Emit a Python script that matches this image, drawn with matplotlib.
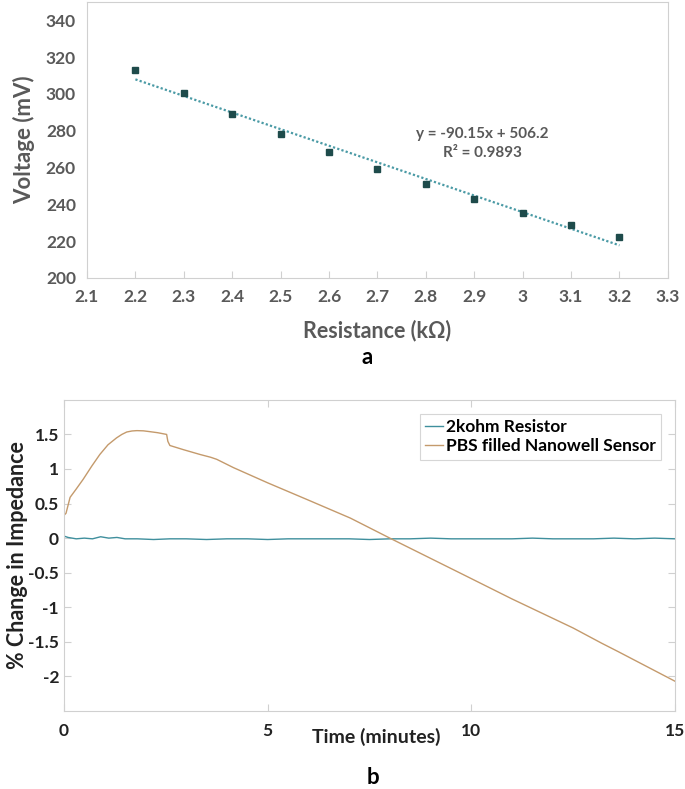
import matplotlib
matplotlib.use("Agg")
import matplotlib.pyplot as plt
import numpy as np

plt.rcParams["font.family"] = ["Lato", "DejaVu Sans"]
plt.rcParams["font.weight"] = "bold"
plt.rcParams["axes.labelweight"] = "bold"

# panel a: voltage vs resistance
resistance = [2.2, 2.3, 2.4, 2.5, 2.6, 2.7, 2.8, 2.9, 3.0, 3.1, 3.2]
voltage = [313.2, 300.6, 288.8, 278.3, 268.4, 259.4, 251.0, 242.9, 235.4, 228.6, 222.0]
fit_slope = -90.15
fit_icpt = 506.2
fit_r2 = 0.9893

# panel b: impedance change over time
t_sensor = [0.0, 0.05, 0.15, 0.3, 0.47, 0.68, 0.88, 1.08, 1.29, 1.42, 1.54, 1.67,
            1.79, 1.95, 2.11, 2.3, 2.52, 2.55, 2.6, 2.93, 3.34, 3.6, 3.75, 4.16,
            5.0, 6.0, 7.03, 8.0, 9.81, 11.0, 12.5, 13.2, 13.6, 15.0]
v_sensor = [0.33, 0.36, 0.59, 0.71, 0.85, 1.04, 1.21, 1.35, 1.45, 1.50, 1.535, 1.55,
            1.555, 1.552, 1.54, 1.525, 1.50, 1.40, 1.34, 1.28, 1.21, 1.17, 1.14, 1.02,
            0.80, 0.55, 0.29, 0.0, -0.53, -0.88, -1.30, -1.52, -1.64, -2.07]
t_res = [0.0, 0.1, 0.3, 0.5, 0.7, 0.9, 1.1, 1.3, 1.5, 1.8, 2.2, 2.6, 3.0, 3.5, 4.0,
         4.5, 5.0, 5.5, 6.0, 6.5, 7.0, 7.5, 8.0, 8.5, 9.0, 9.5, 10.0, 10.5, 11.0,
         11.5, 12.0, 12.5, 13.0, 13.5, 14.0, 14.5, 15.0]
v_res = [0.03, 0.01, -0.01, 0.0, -0.01, 0.02, 0.0, 0.01, -0.01, -0.01, -0.02, -0.01,
         -0.01, -0.02, -0.01, -0.01, -0.02, -0.01, -0.01, -0.01, -0.01, -0.02, -0.01,
         -0.01, 0.0, -0.01, -0.01, -0.01, -0.01, 0.0, -0.01, -0.01, -0.01, 0.0, -0.01,
         0.0, -0.01]

gray_txt = "#595959"
spine_c = "#d0d0d0"

fig = plt.figure(figsize=(6.85, 7.89), dpi=100)

# ---- panel a
ax1 = fig.add_axes([0.127, 0.6477, 0.848, 0.35])
xs = np.array([resistance[0], resistance[-1]])
ax1.plot(xs, fit_slope * xs + fit_icpt, linestyle=(0, (1, 1)), color="#4a9aa5", lw=1.6)
ax1.plot(resistance, voltage, linestyle="none", marker="s", ms=5,
         color="#1e4b4b", mec="#1e4b4b")
ax1.set_xlim(2.1, 3.3)
ax1.set_ylim(200, 350)
ax1.set_xticks([2.1, 2.2, 2.3, 2.4, 2.5, 2.6, 2.7, 2.8, 2.9, 3.0, 3.1, 3.2, 3.3])
ax1.set_xticklabels(["2.1", "2.2", "2.3", "2.4", "2.5", "2.6", "2.7", "2.8", "2.9",
                     "3", "3.1", "3.2", "3.3"])
ax1.set_yticks(range(200, 341, 20))
ax1.tick_params(axis="x", direction="in", length=5, color=spine_c, labelsize=12.5,
                labelcolor=gray_txt, pad=8)
ax1.tick_params(axis="y", length=0, labelsize=12.5, labelcolor=gray_txt, pad=8)
for s in ax1.spines.values():
    s.set_color(spine_c)
ax1.set_ylabel("Voltage (mV)", fontsize=16, color=gray_txt, labelpad=8)
ax1.text(2.917, 273, "y = -90.15x + 506.2\nR² = %.4f" % fit_r2, ha="center",
         va="center", fontsize=11, color=gray_txt, linespacing=1.4)
fig.text(377 / 685, 1 - 331 / 789, "Resistance (kΩ)", ha="center", va="center",
         fontsize=15.5, color=gray_txt)
fig.text(367 / 685, 1 - 358 / 789, "a", ha="center", va="center", fontsize=16,
         color="black")

# ---- panel b
ax2 = fig.add_axes([0.0934, 0.0989, 0.892, 0.3943])
ax2.plot(t_res, v_res, color="#3f8f9d", lw=1.0, label="2kohm Resistor")
ax2.plot(t_sensor, v_sensor, color="#c49a6c", lw=1.0, label="PBS filled Nanowell Sensor")
ax2.set_xlim(0, 15)
ax2.set_ylim(-2.5, 2)
ax2.set_xticks([0, 5, 10, 15])
ax2.set_yticks([-2, -1.5, -1, -0.5, 0, 0.5, 1, 1.5])
ax2.set_yticklabels(["-2", "-1.5", "-1", "-0.5", "0", "0.5", "1", "1.5"])
ax2.tick_params(direction="in", length=5, color=spine_c, labelsize=12.5,
                labelcolor="#222222", top=True, right=True)
ax2.tick_params(axis="x", pad=9)
for s in ax2.spines.values():
    s.set_color(spine_c)
ax2.set_ylabel("% Change in Impedance", fontsize=15.5, color="#222222", va="center")
ax2.yaxis.set_label_coords(-0.076, 0.5)
leg = ax2.legend(loc="upper right", fontsize=12.5, handlelength=1.0, handletextpad=0.2,
                 borderaxespad=0.8, fancybox=False, borderpad=0.3, labelspacing=0.2)
leg.get_frame().set_edgecolor("#cccccc")
leg.get_frame().set_linewidth(0.8)
fig.text(376 / 685, 1 - 737 / 789, "Time (minutes)", ha="center", va="center",
         fontsize=14, color="#222222")
fig.text(373 / 685, 1 - 777 / 789, "b", ha="center", va="center", fontsize=16,
         color="black")

fig.savefig("out.png", dpi=100)
